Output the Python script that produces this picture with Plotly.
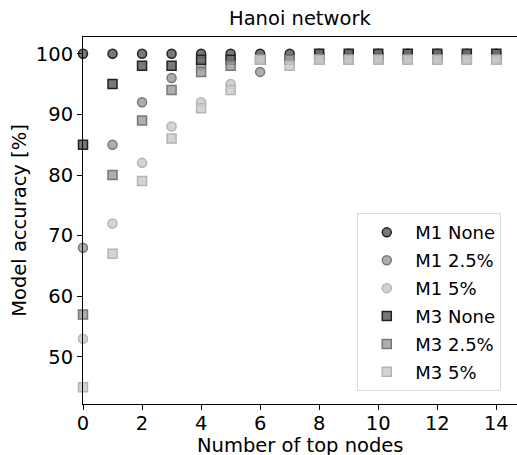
import plotly.graph_objects as go

# Number of top nodes
nodes = list(range(15))

# Model accuracy [%] per series
m1_none = [100, 100, 100, 100, 100, 100, 100, 100, 100, 100, 100, 100, 100, 100, 100]
m1_25 = [68, 85, 92, 96, 98, 99, 97, 99, 99, 99, 99, 99, 99, 99, 99]
m1_5 = [53, 72, 82, 88, 92, 95, 99, 99, 99, 99, 99, 99, 99, 99, 99]
m3_none = [85, 95, 98, 98, 99, 99, 99, 99, 100, 100, 100, 100, 100, 100, 100]
m3_25 = [57, 80, 89, 94, 97, 98, 99, 99, 99, 99, 99, 99, 99, 99, 99]
m3_5 = [45, 67, 79, 86, 91, 94, 99, 98, 99, 99, 99, 99, 99, 99, 99]

series = [
    ("M1 None", m1_none, "circle", "rgba(105,105,105,0.9)", "rgb(35,35,35)"),
    ("M1 2.5%", m1_25, "circle", "rgba(160,160,160,0.85)", "rgb(120,120,120)"),
    ("M1 5%", m1_5, "circle", "rgba(205,205,205,0.85)", "rgb(180,180,180)"),
    ("M3 None", m3_none, "square", "rgba(105,105,105,0.9)", "rgb(35,35,35)"),
    ("M3 2.5%", m3_25, "square", "rgba(160,160,160,0.85)", "rgb(120,120,120)"),
    ("M3 5%", m3_5, "square", "rgba(205,205,205,0.85)", "rgb(180,180,180)"),
]

fig = go.Figure()
for name, vals, sym, fill, edge in series:
    fig.add_trace(go.Scatter(
        x=nodes, y=vals, mode="markers", name=name, legendgroup=name,
        marker=dict(symbol=sym, size=9, color=fill, line=dict(color=edge, width=1.5)),
        cliponaxis=False,
    ))

fig.update_layout(
    width=517, height=455,
    margin=dict(l=83, r=0, t=37, b=51, autoexpand=False),
    plot_bgcolor="white", paper_bgcolor="white",
    font=dict(family="DejaVu Sans", size=19, color="black"),
    title=dict(text="Hanoi network", x=0.58, xanchor="center", y=0.96, yanchor="middle",
               font=dict(family="DejaVu Sans", size=19.5, color="black")),
    showlegend=True,
    legend=dict(x=0.632, y=0.52, xanchor="left", yanchor="top",
                bgcolor="white", bordercolor="rgb(220,220,220)", borderwidth=1,
                font=dict(family="DejaVu Sans", size=18, color="black"),
                itemwidth=47, tracegroupgap=1.5),
)
fig.add_annotation(
    text="Number of top nodes", xref="paper", yref="paper", x=0.5, y=-0.112,
    xanchor="center", yanchor="middle", showarrow=False, borderpad=0,
    font=dict(family="DejaVu Sans", size=19.5, color="black"),
)
fig.update_xaxes(
    range=[0, 14.7], tickvals=[0, 2, 4, 6, 8, 10, 12, 14],
    tickfont=dict(size=19.5), ticklabelstandoff=-3,
    showgrid=False, zeroline=False, showline=True, linecolor="black", linewidth=1,
    mirror=True, ticks="outside", ticklen=5, tickcolor="black",
)
fig.update_yaxes(
    range=[42.25, 102.75], tickvals=[50, 60, 70, 80, 90, 100],
    tickfont=dict(size=19.5),
    showgrid=False, zeroline=False, showline=True, linecolor="black", linewidth=1,
    ticks="outside", ticklen=5, tickcolor="black",
    title=dict(text="Model accuracy [%]", standoff=4, font=dict(size=19.5)),
)

fig.write_html("out.html", config={"displayModeBar": False},
               post_script="document.body.style.margin='0px';")
